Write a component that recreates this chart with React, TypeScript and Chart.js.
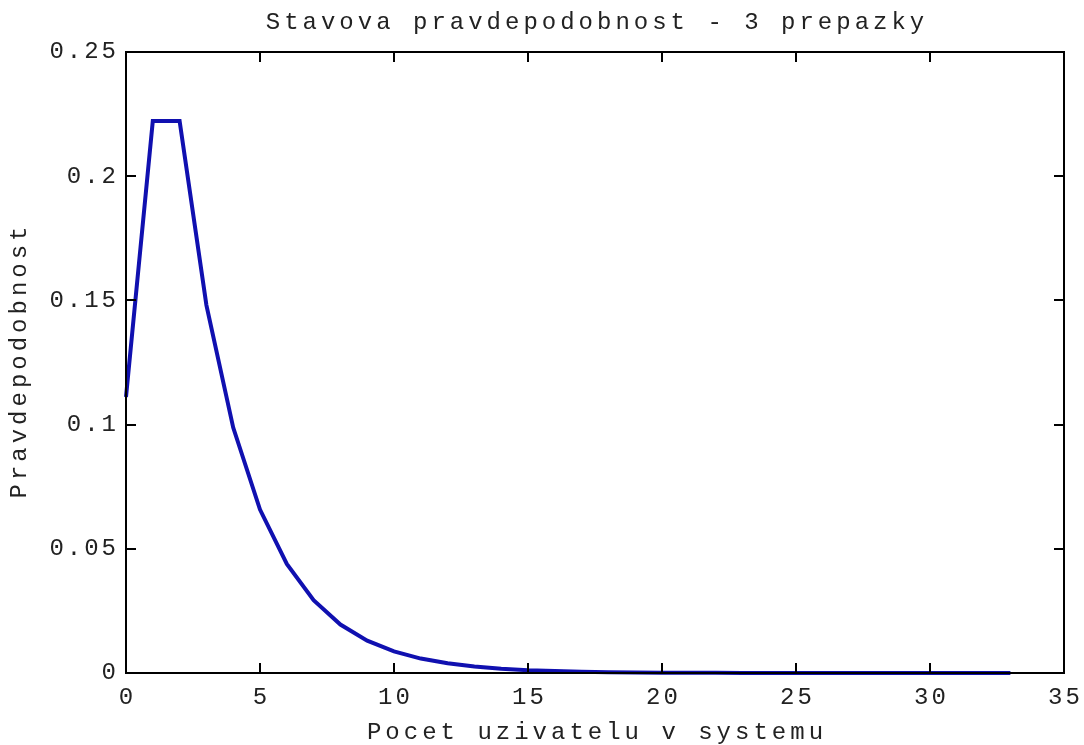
import React, { useEffect, useRef } from "react";
import { Chart, registerables } from "chart.js";

Chart.register(...registerables);

const titleText = "Stavova pravdepodobnost - 3 prepazky";
const xTitle = "Pocet uzivatelu v systemu";
const yTitle = "Pravdepodobnost";

const states = [
  0, 1, 2, 3, 4, 5, 6, 7, 8, 9, 10, 11, 12, 13, 14, 15, 16, 17, 18, 19, 20,
  21, 22, 23, 24, 25, 26, 27, 28, 29, 30, 31, 32, 33,
];
const probabilities = [
  0.1111, 0.2222, 0.2222, 0.1481, 0.0988, 0.0658, 0.0439, 0.0293, 0.0195,
  0.013, 0.0087, 0.0058, 0.0039, 0.0026, 0.0017, 0.0011, 0.00076, 0.00051,
  0.00034, 0.00023, 0.00015, 0.0001, 0.00007, 0.00004, 0.00003, 0.00002,
  0.00001, 0.00001, 0.00001, 0.0, 0.0, 0.0, 0.0, 0.0,
];
const xTickValues = [0, 5, 10, 15, 20, 25, 30, 35];
const yTickValues = [0, 0.05, 0.1, 0.15, 0.2, 0.25];
const yTickLabels = ["0", "0.05", "0.1", "0.15", "0.2", "0.25"];

const FONT = '"Liberation Mono", "DejaVu Sans Mono", monospace';

const axesPlugin = {
  id: "matlabAxes",
  afterDatasetsDraw(chart: any) {
    const ctx = chart.ctx as CanvasRenderingContext2D;
    const { left, right, top, bottom } = chart.chartArea;
    const xs = chart.scales.x;
    const ys = chart.scales.y;
    ctx.save();
    ctx.strokeStyle = "#000";
    ctx.lineWidth = 2;
    ctx.strokeRect(left, top, right - left, bottom - top);
    const tl = 10;
    ctx.beginPath();
    xTickValues.forEach((v) => {
      const px = Math.round(xs.getPixelForValue(v));
      ctx.moveTo(px, bottom);
      ctx.lineTo(px, bottom - tl);
      ctx.moveTo(px, top);
      ctx.lineTo(px, top + tl);
    });
    yTickValues.forEach((v) => {
      const py = Math.round(ys.getPixelForValue(v));
      ctx.moveTo(left, py);
      ctx.lineTo(left + tl, py);
      ctx.moveTo(right, py);
      ctx.lineTo(right - tl, py);
    });
    ctx.stroke();

    ctx.fillStyle = "#222";
    (ctx as any).letterSpacing = "3px";
    ctx.font = `24px ${FONT}`;
    ctx.textBaseline = "middle";
    ctx.textAlign = "center";
    xTickValues.forEach((v) => {
      const px = xs.getPixelForValue(v);
      ctx.fillText(String(v), px + 1.5, bottom + 25);
    });
    ctx.textAlign = "right";
    yTickValues.forEach((v, i) => {
      const py = ys.getPixelForValue(v);
      ctx.fillText(yTickLabels[i], left - 7, py);
    });

    ctx.font = `24px ${FONT}`;
    (ctx as any).letterSpacing = "4px";
    ctx.textAlign = "center";
    ctx.fillText(titleText, (left + right) / 2 + 2, 23);
    ctx.fillText(xTitle, (left + right) / 2 + 2, 733);
    ctx.translate(20, (top + bottom) / 2);
    ctx.rotate(-Math.PI / 2);
    ctx.fillText(yTitle, 2, 0);
    ctx.restore();
  },
};

export default function App() {
  const ref = useRef<HTMLCanvasElement | null>(null);
  useEffect(() => {
    if (!ref.current) return;
    const chart = new Chart(ref.current, {
      type: "line",
      data: {
        datasets: [
          {
            data: states.map((s, i) => ({ x: s, y: probabilities[i] })),
            borderColor: "#1010b0",
            borderWidth: 4,
            pointRadius: 0,
            tension: 0,
            fill: false,
            clip: false as any,
          },
        ],
      },
      options: {
        responsive: false,
        animation: false,
        events: [],
        layout: { padding: { left: 126, right: 20, top: 52, bottom: 72 } },
        plugins: {
          legend: { display: false },
          tooltip: { enabled: false },
          title: { display: false },
        },
        scales: {
          x: { type: "linear", min: 0, max: 35, display: false },
          y: { type: "linear", min: 0, max: 0.25, display: false },
        },
      },
      plugins: [axesPlugin],
    });
    return () => chart.destroy();
  }, []);
  return (
    <div style={{ position: "fixed", left: 0, top: 0, width: 1084, height: 745, background: "#fff" }}>
      <canvas ref={ref} width={1084} height={745} />
    </div>
  );
}
